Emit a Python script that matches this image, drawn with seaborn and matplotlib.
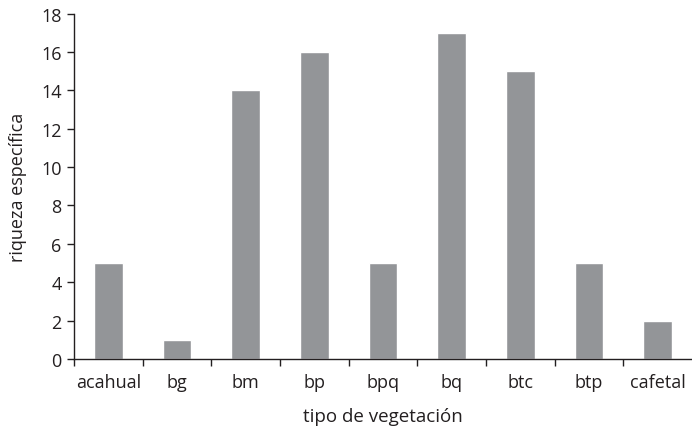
import matplotlib
matplotlib.use("Agg")
import matplotlib.pyplot as plt
import seaborn as sns
import pandas as pd
import numpy as np

categories = ["acahual", "bg", "bm", "bp", "bpq", "bq", "btc", "btp", "cafetal"]
values = [5, 1, 14, 16, 5, 17, 15, 5, 2]
yticks = [0, 2, 4, 6, 8, 10, 12, 14, 16, 18]

sns.set_style("white")
plt.rcParams['font.family'] = ['Open Sans', 'DejaVu Sans']

df = pd.DataFrame({"tipo": categories, "riqueza": values})

fig = plt.figure(figsize=(6.92, 4.31), dpi=100)
ax = fig.add_axes([0.107, 0.165, 0.893, 0.801])
sns.barplot(data=df, x="tipo", y="riqueza", color="#939598", width=0.42,
            saturation=1, ax=ax)

ax.set_ylim(0, 18)
ax.set_xlim(-0.5, len(categories) - 0.5)
ax.set_yticks(yticks)
ax.set_xticks(range(len(categories)))
ax.set_xticklabels(categories)
ax.set_xticks(np.arange(-0.5, len(categories) - 0.5, 1), minor=True)

for s in ["top", "right"]:
    ax.spines[s].set_visible(False)
for s in ["left", "bottom"]:
    ax.spines[s].set_color("#231f20")
    ax.spines[s].set_linewidth(1.0)

ax.tick_params(axis="y", which="major", direction="out", length=5, width=1,
               color="#231f20", labelsize=13, labelcolor="#231f20", left=True, pad=4)
ax.tick_params(axis="x", which="major", length=0, labelsize=13,
               labelcolor="#231f20", pad=10)
ax.tick_params(axis="x", which="minor", direction="out", length=5, width=1,
               color="#231f20", bottom=True)

ax.set_xlabel("tipo de vegetación", fontsize=13.5, color="#231f20", labelpad=12)
ax.set_ylabel("riqueza específica", fontsize=13, color="#231f20", labelpad=10)

fig.savefig("out.png", dpi=100)
